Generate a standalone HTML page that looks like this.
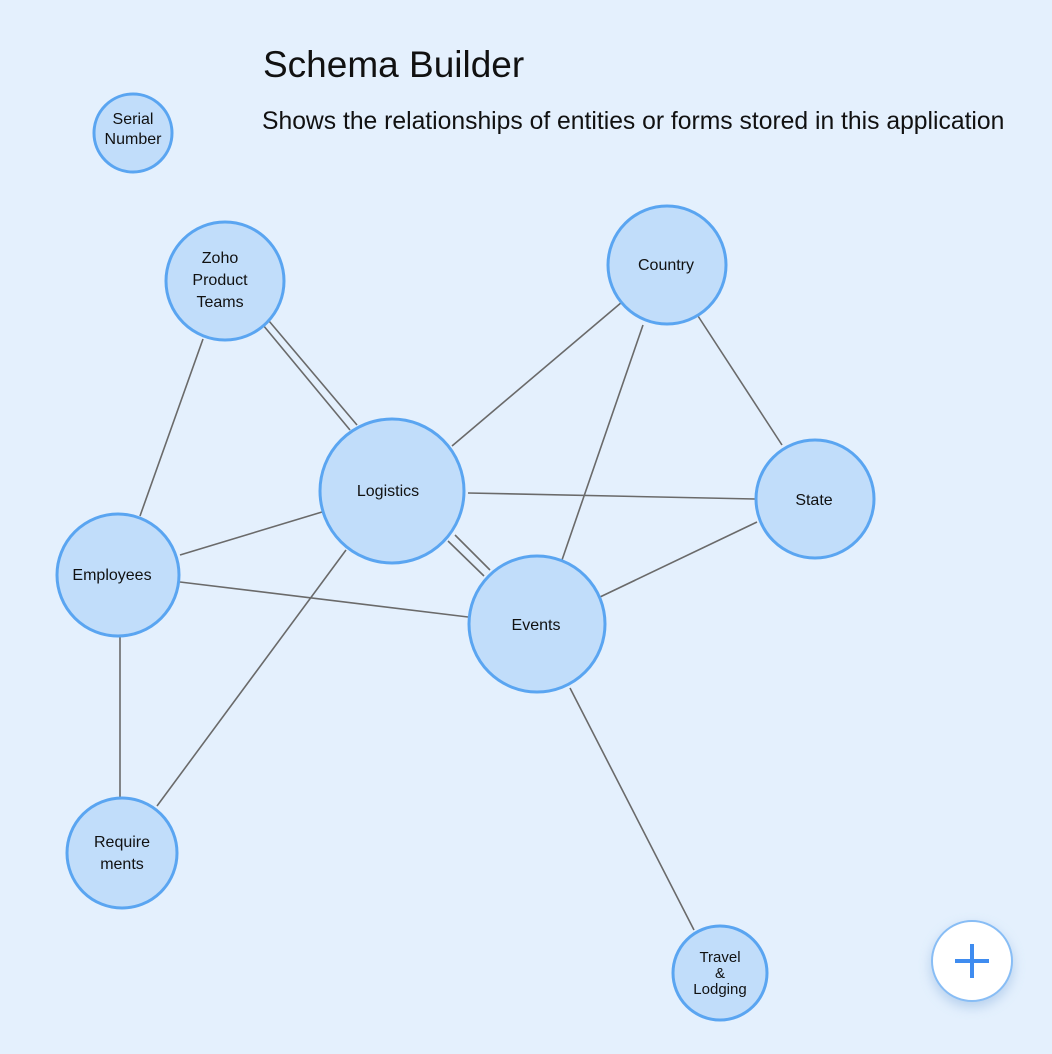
<!DOCTYPE html>
<html><head><meta charset="utf-8"><style>
body{margin:0;background:#e4f0fd;width:1052px;height:1054px;overflow:hidden;font-family:"Liberation Sans",sans-serif;}
svg{position:absolute;left:0;top:0}
.t{position:absolute;left:263px;top:44px;font-size:37px;color:#111}
.s{position:absolute;left:262px;top:108px;font-size:24.7px;color:#111;white-space:nowrap}
</style></head><body>
<div class="t">Schema Builder</div>
<div class="s">Shows the relationships of entities or forms stored in this application</div>
<svg width="1052" height="1054" font-family="Liberation Sans, sans-serif" font-size="16" text-anchor="middle">
<defs><filter id="sh" x="-50%" y="-50%" width="200%" height="200%"><feDropShadow dx="0" dy="5" stdDeviation="6" flood-color="#7aa6d8" flood-opacity="0.45"/></filter></defs>
<g stroke="#6a6a6a" stroke-width="1.6">
<line x1="263" y1="325" x2="350" y2="430"/><line x1="269" y1="321" x2="357" y2="425"/>
<line x1="203" y1="339" x2="140" y2="516"/>
<line x1="622" y1="302" x2="452" y2="446"/>
<line x1="643" y1="325" x2="562" y2="560"/>
<line x1="698" y1="316" x2="782" y2="445"/>
<line x1="468" y1="493" x2="755" y2="499"/>
<line x1="322" y1="512" x2="180" y2="555"/>
<line x1="455" y1="535" x2="490" y2="570"/><line x1="448" y1="541" x2="484" y2="576"/>
<line x1="346" y1="550" x2="157" y2="806"/>
<line x1="180" y1="582" x2="468" y2="617"/>
<line x1="120" y1="634" x2="120" y2="797"/>
<line x1="757" y1="522" x2="600" y2="597"/>
<line x1="570" y1="688" x2="694" y2="930"/>
</g>
<g fill="#c1ddfa" stroke="#5aa5f1" stroke-width="3">
<circle cx="133" cy="133" r="39"/>
<circle cx="225" cy="281" r="59"/>
<circle cx="667" cy="265" r="59"/>
<circle cx="392" cy="491" r="72"/>
<circle cx="815" cy="499" r="59"/>
<circle cx="118" cy="575" r="61"/>
<circle cx="537" cy="624" r="68"/>
<circle cx="122" cy="853" r="55"/>
<circle cx="720" cy="973" r="47"/>
</g>
<g fill="#111">
<text x="133" y="124">Serial</text><text x="133" y="144">Number</text>
<text x="220" y="263">Zoho</text><text x="220" y="285">Product</text><text x="220" y="307">Teams</text>
<text x="666" y="270">Country</text>
<text x="388" y="496">Logistics</text>
<text x="814" y="505">State</text>
<text x="112" y="580">Employees</text>
<text x="536" y="630">Events</text>
<text x="122" y="847">Require</text><text x="122" y="869">ments</text>
<text x="720" y="962" font-size="15">Travel</text><text x="720" y="978" font-size="15">&amp;</text><text x="720" y="994" font-size="15">Lodging</text>
</g>
<circle cx="972" cy="961" r="40" fill="#fff" stroke="#88bdf5" stroke-width="2" filter="url(#sh)"/>
<rect x="955" y="959" width="34" height="4" fill="#3f8cf0"/><rect x="970" y="944" width="4" height="34" fill="#3f8cf0"/>
</svg>
</body></html>
